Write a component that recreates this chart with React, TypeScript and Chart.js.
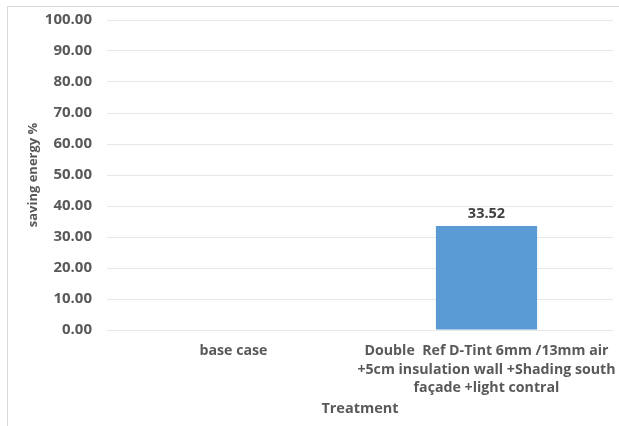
import React, { useEffect, useRef } from "react";
import { Chart, registerables } from "chart.js";

Chart.register(...registerables);

const categories: (string | string[])[] = [
  "base case",
  ["Double  Ref D-Tint 6mm /13mm air", "+5cm insulation wall +Shading south", "façade +light contral"],
];
const savingValues: (number | null)[] = [null, 33.52];
const yTickValues = [0, 10, 20, 30, 40, 50, 60, 70, 80, 90, 100];
const yTitle = "saving energy %";
const xTitle = "Treatment";

const FONT = "'Open Sans', 'DejaVu Sans', sans-serif";

const dataLabelPlugin = {
  id: "dataLabels",
  afterDatasetsDraw(chart: any) {
    const ctx = chart.ctx;
    const meta = chart.getDatasetMeta(0);
    ctx.save();
    ctx.font = `bold 14.5px ${FONT}`;
    ctx.fillStyle = "#404040";
    ctx.textAlign = "center";
    ctx.textBaseline = "middle";
    meta.data.forEach((el: any, i: number) => {
      const v = chart.data.datasets[0].data[i];
      if (v === null || v === undefined) return;
      ctx.fillText(Number(v).toFixed(2), el.x, el.y - 12);
    });
    ctx.restore();
  },
};

export default function App() {
  const ref = useRef<HTMLCanvasElement | null>(null);
  useEffect(() => {
    if (!ref.current) return;
    const chart = new Chart(ref.current, {
      type: "bar",
      data: {
        labels: categories as any,
        datasets: [
          {
            data: savingValues as any,
            backgroundColor: "#5b9bd5",
            borderWidth: 0,
            barPercentage: 0.4,
            categoryPercentage: 1,
          },
        ],
      },
      options: {
        responsive: false,
        animation: false,
        layout: { padding: { top: 20, right: 6, left: 0, bottom: 0 } },
        plugins: {
          legend: { display: false },
          tooltip: { enabled: false },
        },
        scales: {
          x: {
            grid: { display: false, drawTicks: false },
            border: { display: false },
            afterFit: (axis: any) => {
              axis.height = 96;
              axis.paddingRight = 0;
              axis.paddingLeft = 0;
            },
            ticks: {
              color: "#595959",
              font: { family: FONT, size: 14.2, weight: "bold", lineHeight: 1.3 },
              maxRotation: 0,
              minRotation: 0,
              padding: 12,
              autoSkip: false,
            },
            title: {
              display: true,
              text: xTitle,
              color: "#595959",
              font: { family: FONT, size: 14.5, weight: "bold", lineHeight: 1.2 },
              padding: { top: 4, bottom: 8 },
            },
          },
          y: {
            min: 0,
            max: 100,
            afterBuildTicks: (axis: any) => {
              axis.ticks = yTickValues.map((v) => ({ value: v }));
            },
            afterFit: (axis: any) => {
              axis.width = 107;
              axis.paddingTop = 0;
              axis.paddingBottom = 0;
            },
            grid: { color: "#e8e8e8", drawTicks: false, lineWidth: 1 },
            border: { display: false },
            ticks: {
              color: "#595959",
              font: { family: FONT, size: 15, weight: "bold" },
              padding: 15,
              callback: (v: any) => Number(v).toFixed(2),
            },
            title: {
              display: true,
              text: yTitle,
              color: "#595959",
              font: { family: FONT, size: 13, weight: "bold", lineHeight: 1.2 },
              padding: { top: 25, bottom: 0 },
            },
          },
        },
      },
      plugins: [dataLabelPlugin],
    });
    return () => chart.destroy();
  }, []);

  return (
    <div style={{ position: "fixed", left: 0, top: 0, width: 619, height: 426, background: "#fff", overflow: "hidden" }}>
      <div
        style={{
          position: "absolute",
          left: 7,
          top: 6,
          width: 640,
          height: 440,
          borderLeft: "1px solid #d9d9d9",
          borderTop: "1px solid #d9d9d9",
        }}
      />
      <canvas ref={ref} width={619} height={426} style={{ position: "absolute", left: 0, top: 0, display: "block" }} />
    </div>
  );
}
